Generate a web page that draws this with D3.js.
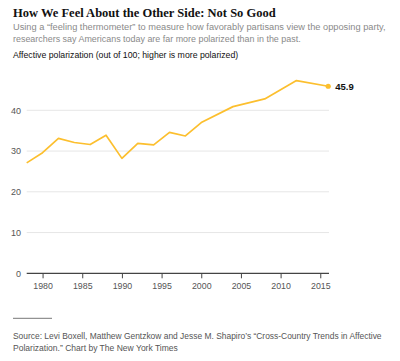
<!DOCTYPE html>
<html><head><meta charset="utf-8">
<script src="https://cdn.jsdelivr.net/npm/d3@7"></script>
<style>
body{margin:0;background:#fff;}
svg{display:block;}
</style></head>
<body>
<svg id="c" width="400" height="361"></svg>
<script>
const years = [1978,1980,1982,1984,1986,1988,1990,1992,1994,1996,1998,2000,2004,2008,2012,2016];
const values = [27.1,29.6,33.1,32.1,31.6,33.9,28.2,31.9,31.5,34.6,33.7,37.0,40.9,42.8,47.3,45.9];
const xTicks = [1980,1985,1990,1995,2000,2005,2010,2015];
const yTicks = [0,10,20,30,40];
const title = "How We Feel About the Other Side: Not So Good";
const subtitle = ["Using a \u201cfeeling thermometer\u201d to measure how favorably partisans view the opposing party,",
                  "researchers say Americans today are far more polarized than in the past."];
const axisLabel = "Affective polarization (out of 100; higher is more polarized)";
const source = ["Source:  Levi Boxell, Matthew Gentzkow and Jesse M. Shapiro\u2019s \u201cCross-Country Trends in Affective",
                "Polarization.\u201d Chart by The New York Times"];

const svg = d3.select("#c");
const sans = "'Liberation Sans Narrow', 'Liberation Sans', Arial, sans-serif";
const x = d3.scaleLinear().domain([1978, 2016]).range([26.7, 328.2]);
const y = d3.scaleLinear().domain([0, 40]).range([273.3, 110.3]);
const color = "#fcbf2e";

// shrink font size so the natural width matches the target width
function fitText(sel, w){
  const node = sel.node();
  const fs = parseFloat(sel.attr("font-size"));
  const len = node.getComputedTextLength();
  if (len > 0) sel.attr("font-size", (fs * w / len).toFixed(2));
}

svg.append("text").attr("x",13).attr("y",17)
  .attr("font-family","'Liberation Serif', 'DejaVu Serif', serif").attr("font-weight","bold")
  .attr("font-size",14.5).attr("fill","#111").text(title).call(fitText,263);
const subW = [373, 288];
subtitle.forEach((s,i)=>svg.append("text").attr("x",13).attr("y",29.5+i*12)
  .attr("font-family",sans).attr("font-size",11).attr("fill","#8a8a8a").text(s).call(fitText,subW[i]));
svg.append("text").attr("x",13).attr("y",58).attr("font-family",sans)
  .attr("font-size",9.4).attr("fill","#111").text(axisLabel).call(fitText,225);

// grid
const g = svg.append("g");
g.selectAll("line.grid").data(yTicks.filter(d=>d>0)).join("line")
  .attr("x1",26.7).attr("x2",329).attr("y1",d=>y(d)).attr("y2",d=>y(d))
  .attr("stroke","#e6e6e6").attr("stroke-width",1);
g.selectAll("text.yl").data(yTicks).join("text")
  .attr("x",21).attr("y",d=>y(d)+3.3).attr("text-anchor","end")
  .attr("font-family","'Liberation Sans', Arial, sans-serif").attr("font-size",9).attr("fill","#555").text(d=>d);

// x axis
const xa = svg.append("g").attr("transform","translate(0,273.3)")
  .call(d3.axisBottom(x).tickValues(xTicks).tickFormat(d3.format("d")).tickSizeInner(5).tickSizeOuter(0).tickPadding(4));
xa.select(".domain").attr("d","M26.7,0H329").attr("stroke","#444").attr("stroke-width",1.2);
xa.selectAll(".tick line").attr("stroke","#444");
xa.selectAll(".tick text").attr("font-family","'Liberation Sans', Arial, sans-serif").attr("font-size",8.8).attr("fill","#555");

// line
const line = d3.line().x((d,i)=>x(years[i])).y(d=>y(d));
svg.append("path").datum(values).attr("d",line).attr("fill","none")
  .attr("stroke",color).attr("stroke-width",1.7).attr("stroke-linejoin","round");
const li = values.length-1;
svg.append("circle").attr("cx",x(years[li])).attr("cy",y(values[li])).attr("r",2.6).attr("fill",color);
svg.append("text").attr("x",x(years[li])+7).attr("y",y(values[li])+3.5)
  .attr("font-family","'Liberation Sans', Arial, sans-serif").attr("font-weight","bold").attr("font-size",9.5).attr("fill","#111")
  .text(d3.format(".1f")(values[li]));

// footer
svg.append("line").attr("x1",13).attr("x2",52).attr("y1",318.3).attr("y2",318.3).attr("stroke","#777").attr("stroke-width",1);
const srcW = [369, 165];
source.forEach((s,i)=>svg.append("text").attr("x",13).attr("y",339+i*12)
  .attr("font-family",sans).attr("font-size",9.3).attr("fill","#555").text(s).call(fitText,srcW[i]));
</script>
</body></html>
